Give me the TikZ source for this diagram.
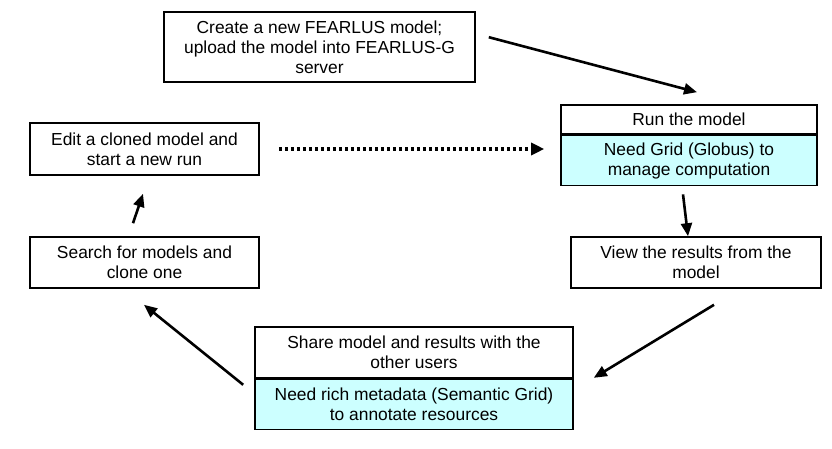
\documentclass[tikz,border=0pt]{standalone}
\usepackage{fontspec}
\setmainfont{Liberation Sans}
\usetikzlibrary{positioning,arrows.meta}
\definecolor{lcyan}{RGB}{204,255,255}
\newcommand{\boxfont}{\fontsize{17.4}{20}\selectfont}
\begin{document}
\begin{tikzpicture}[x=1pt,y=-1pt]
			\tikzstyle{b} = [draw, line width=1.6pt, align=center, inner sep=0pt, font=\boxfont]
			\tikzstyle{c} = [b, fill=lcyan]
			\tikzstyle{a} = [line width=2.6pt, -{Triangle[length=13pt,width=11pt]}]
			\tikzstyle{dt} = [line width=3.2pt, dash pattern=on 3.5pt off 2.5pt, -{Triangle[length=13pt,width=12pt]}]
			\useasboundingbox (0,0) rectangle (832,449);
			\node[b, minimum width=311pt, minimum height=70pt] (create) at (319.5,47)
				{Create a new FEARLUS model;\\upload the model into FEARLUS-G\\server};
			\node[b, minimum width=229pt, minimum height=52pt] (edit) at (144.5,149)
				{Edit a cloned model and\\start a new run};
			\node[b, minimum width=229pt, minimum height=51pt] (search) at (144.5,262.5)
				{Search for models and\\clone one};
			\node[b, minimum width=256pt, minimum height=29pt] (runtop) at (689,119.5)
				{Run the model};
			\node[c, minimum width=256pt, minimum height=50pt, below=0pt of runtop] (runbot)
				{Need Grid (Globus) to\\manage computation};
			\node[b, minimum width=250pt, minimum height=51pt] (view) at (696,262.5)
				{View the results from the\\model};
			\node[b, minimum width=318pt, minimum height=51pt] (sharetop) at (414,352.5)
				{Share model and results with the\\other users};
			\node[c, minimum width=318pt, minimum height=50pt, below=0pt of sharetop] (sharebot)
				{Need rich metadata (Semantic Grid)\\to annotate resources};
			\draw[a] ([shift={(13pt,-26pt)}]create.north east) -- ([shift={(8pt,12pt)}]runtop.north);
			\draw[dt] ([xshift=19pt]edit.east) -- ([xshift=-16pt]edit.east -| runbot.west);
			\draw[a] ([shift={(-6pt,-8pt)}]runbot.south) -- ([xshift=-8pt]view.north);
			\draw[a] ([shift={(18pt,-16pt)}]view.south) -- ([shift={(20pt,1pt)}]sharetop.south east);
			\draw[a] ([shift={(-11pt,-6pt)}]sharetop.south west) -- ([shift={(-0.5pt,-16pt)}]search.south);
			\draw[a] ([shift={(-11.5pt,13pt)}]search.north) -- ([shift={(-1.5pt,-18pt)}]edit.south);
\end{tikzpicture}
\end{document}
